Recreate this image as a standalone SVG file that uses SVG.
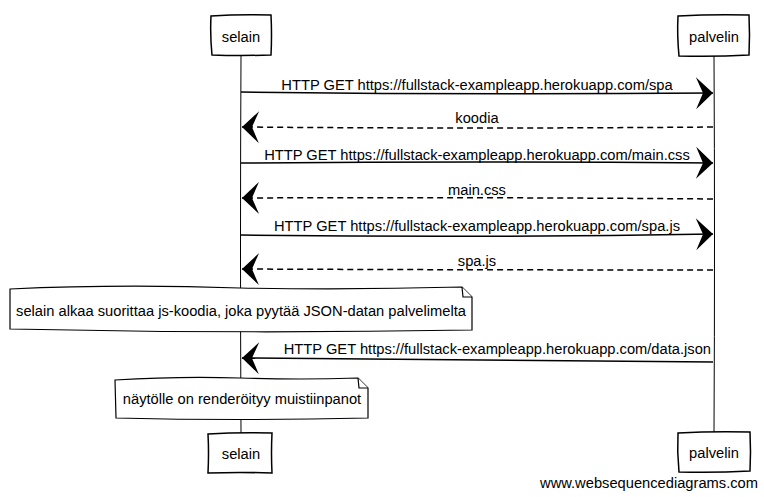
<svg xmlns="http://www.w3.org/2000/svg" width="764" height="497" viewBox="0 0 764 497">
<defs>
<marker id="ah" markerUnits="userSpaceOnUse" viewBox="-18 -17 19 34" markerWidth="19" markerHeight="34" refX="0" refY="0" orient="auto">
<path d="M0,0 L-17,-16 L-10,0 L-17,16 Z" fill="#000"/>
</marker>
</defs>
<style>
text{font-family:"Liberation Sans",Arial,sans-serif;font-size:14.7px;fill:#000}
.box{fill:#fff;stroke:#000;stroke-width:1.5}
.life{fill:none;stroke:#000;stroke-width:1}
.msg{fill:none;stroke:#000;stroke-width:1.5;marker-end:url(#ah)}
.dash{stroke-dasharray:6,4}
.note{fill:#fff;stroke:#000;stroke-width:1.2}
.c{text-anchor:middle}
</style>
<rect width="764" height="497" fill="#fff"/>
<g id="lifelines">
<path class="life" d="M241,55 Q240,240 241,433"/>
<path class="life" d="M714,56 Q715,240 714,432"/>
</g>
<g id="selain-top">
<path class="box" d="M211,16 Q240,14 271,15 Q272,35 271,55 Q240,56 212,55 Q210,35 211,16 Z"/>
<text class="c" x="241" y="42">selain</text>
</g>
<g id="palvelin-top">
<path class="box" d="M678,16 Q714,14 749,15 Q750,35 749,55 Q714,57 679,56 Q677,35 678,16 Z"/>
<text class="c" x="714" y="42">palvelin</text>
</g>
<g id="connectors">
<path class="msg" d="M241,92 Q480,95 713,93"/>
<text class="c" x="477" y="90">HTTP GET https://fullstack-exampleapp.herokuapp.com/spa</text>
<path class="msg dash" d="M713,127 Q480,129 242,127"/>
<text class="c" x="477" y="123">koodia</text>
<path class="msg" d="M241,163 Q480,161 713,163"/>
<text class="c" x="477" y="160">HTTP GET https://fullstack-exampleapp.herokuapp.com/main.css</text>
<path class="msg dash" d="M713,199 Q480,197 242,198"/>
<text class="c" x="477" y="195">main.css</text>
<path class="msg" d="M241,235 Q480,238 713,234"/>
<text class="c" x="477" y="231">HTTP GET https://fullstack-exampleapp.herokuapp.com/spa.js</text>
<path class="msg dash" d="M713,270 Q480,270 242,269"/>
<text class="c" x="477" y="266">spa.js</text>
<path class="msg" d="M713,362 Q480,361 242,358"/>
<text x="711" y="354" text-anchor="end">HTTP GET https://fullstack-exampleapp.herokuapp.com/data.json</text>
</g>
<g id="note1">
<path class="note" d="M10,289 Q120,284 240,288 Q350,290 462,287 L472,297 L472,330 Q240,334 10,329 Z"/>
<path class="note" fill="none" d="M462,287 L463,297 L472,297"/>
<text class="c" x="241" y="316">selain alkaa suorittaa js-koodia, joka pyytää JSON-datan palvelimelta</text>
</g>
<g id="note2">
<path class="note" d="M115,380 Q180,376 240,378 Q300,380 358,378 L368,388 L368,418 Q240,421 116,418 Z"/>
<path class="note" fill="none" d="M358,378 L359,388 L368,388"/>
<text class="c" x="242" y="404">näytölle on renderöityy muistiinpanot</text>
</g>
<g id="selain-bottom">
<path class="box" d="M208,434 Q240,432 272,433 Q271,453 272,473 Q240,472 208,473 Q209,453 208,434 Z"/>
<text class="c" x="241" y="459">selain</text>
</g>
<g id="palvelin-bottom">
<path class="box" d="M678,433 Q714,431 750,432 Q751,452 750,471 Q714,473 679,472 Q677,452 678,433 Z"/>
<text class="c" x="714" y="458">palvelin</text>
</g>
<text x="758" y="488" text-anchor="end">www.websequencediagrams.com</text>
</svg>
